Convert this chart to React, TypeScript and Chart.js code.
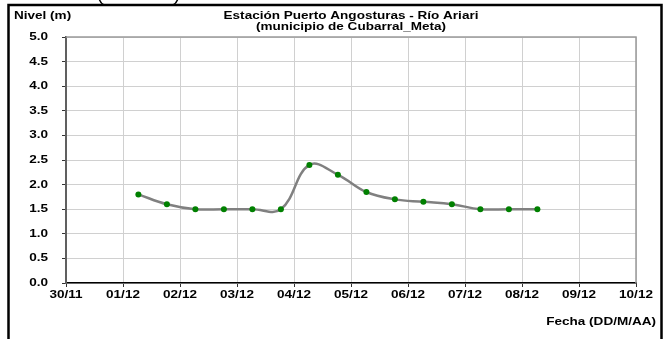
import React, { useEffect, useRef } from 'react';
import { Chart, registerables } from 'chart.js';

Chart.register(...registerables);

const dateLabels = ['30/11', '01/12', '02/12', '03/12', '04/12', '05/12', '06/12', '07/12', '08/12', '09/12', '10/12'];
const yTickValues = [0, 0.5, 1, 1.5, 2, 2.5, 3, 3.5, 4, 4.5, 5];
const sampleDays = [1.27, 1.77, 2.27, 2.77, 3.27, 3.77, 4.27, 4.77, 5.27, 5.77, 6.27, 6.77, 7.27, 7.77, 8.27];
const levels = [1.8, 1.6, 1.5, 1.5, 1.5, 1.5, 2.4, 2.2, 1.85, 1.7, 1.65, 1.6, 1.5, 1.5, 1.5];
const titleLines = ['Estación Puerto Angosturas - Río Ariari', '(municipio de Cubarral_Meta)'];
const yAxisTitle = 'Nivel (m)';
const xAxisTitle = 'Fecha (DD/M/AA)';

const FONT = "'Liberation Sans', Arial, sans-serif";
const SX = 1.23;

function stretched(ctx: CanvasRenderingContext2D, text: string, x: number, y: number, align: CanvasTextAlign) {
  ctx.save();
  ctx.translate(x, y);
  ctx.scale(SX, 1);
  ctx.textAlign = align;
  ctx.fillText(text, 0, 0);
  ctx.restore();
}

const decor = {
  id: 'decor',
  afterDraw(chart: any) {
    const ctx = chart.ctx as CanvasRenderingContext2D;
    const a = chart.chartArea;
    const xs = chart.scales.x;
    const ys = chart.scales.y;
    ctx.save();
    // plot top/right border
    ctx.strokeStyle = '#9a9a9a';
    ctx.lineWidth = 1.5;
    ctx.beginPath();
    ctx.moveTo(a.left, a.top);
    ctx.lineTo(a.right, a.top);
    ctx.lineTo(a.right, a.bottom);
    ctx.stroke();
    // outer frame
    ctx.strokeStyle = '#000';
    ctx.lineWidth = 2.5;
    ctx.strokeRect(8.5, 5, 653, 400);
    // partial shape above
    ctx.lineWidth = 1.5;
    ctx.beginPath();
    ctx.moveTo(99, -2);
    ctx.quadraticCurveTo(100, 3, 104, 5);
    ctx.moveTo(178, -2);
    ctx.quadraticCurveTo(177, 3, 173, 5);
    ctx.stroke();
    // texts
    ctx.fillStyle = '#000';
    ctx.font = `bold 11px ${FONT}`;
    ctx.textBaseline = 'middle';
    const cx = (a.left + a.right) / 2;
    stretched(ctx, titleLines[0], cx, 16, 'center');
    stretched(ctx, titleLines[1], cx, 27, 'center');
    stretched(ctx, yAxisTitle, 14, 16, 'left');
    stretched(ctx, xAxisTitle, 656, 322, 'right');
    // tick labels
    dateLabels.forEach((lab, i) => {
      stretched(ctx, lab, xs.getPixelForValue(i), a.bottom + 12, 'center');
    });
    yTickValues.forEach((v) => {
      stretched(ctx, v.toFixed(1), a.left - 18, ys.getPixelForValue(v), 'right');
    });
    ctx.restore();
  },
};

export default function App() {
  const ref = useRef<HTMLCanvasElement>(null);
  useEffect(() => {
    if (!ref.current) return;
    const chart = new Chart(ref.current, {
      type: 'line',
      data: {
        datasets: [
          {
            data: sampleDays.map((d, i) => ({ x: d, y: levels[i] })),
            borderColor: '#808080',
            borderWidth: 2.5,
            pointBackgroundColor: '#008000',
            pointBorderColor: '#008000',
            pointRadius: 3,
            pointBorderWidth: 0,
            tension: 0.4,
            fill: false,
          },
        ],
      },
      options: {
        animation: false,
        responsive: false,
        maintainAspectRatio: false,
        layout: { padding: { left: 0, right: 30, top: 37, bottom: 0 } },
        plugins: { legend: { display: false }, tooltip: { enabled: false }, title: { display: false } },
        scales: {
          x: {
            type: 'linear',
            min: 0,
            max: 10,
            afterFit(scale: any) {
              scale.height = 56;
            },
            afterBuildTicks(scale: any) {
              scale.ticks = dateLabels.map((_, i) => ({ value: i }));
            },
            ticks: { display: false, autoSkip: false },
            grid: { color: '#d0d0d0', lineWidth: 1, tickLength: 4, tickColor: '#333' },
            border: { color: '#000', width: 1.5 },
          },
          y: {
            min: 0,
            max: 5,
            afterFit(scale: any) {
              scale.width = 66;
            },
            afterBuildTicks(scale: any) {
              scale.ticks = yTickValues.map((v) => ({ value: v }));
            },
            ticks: { display: false },
            grid: { color: '#d0d0d0', lineWidth: 1, tickLength: 4, tickColor: '#333' },
            border: { color: '#606060', width: 2 },
          },
        },
      },
      plugins: [decor],
    } as any);
    return () => chart.destroy();
  }, []);
  return (
    <div style={{ position: 'fixed', left: 0, top: 0, width: 666, height: 339, background: '#fff' }}>
      <canvas ref={ref} width={666} height={339} style={{ width: 666, height: 339, display: 'block' }} />
    </div>
  );
}
